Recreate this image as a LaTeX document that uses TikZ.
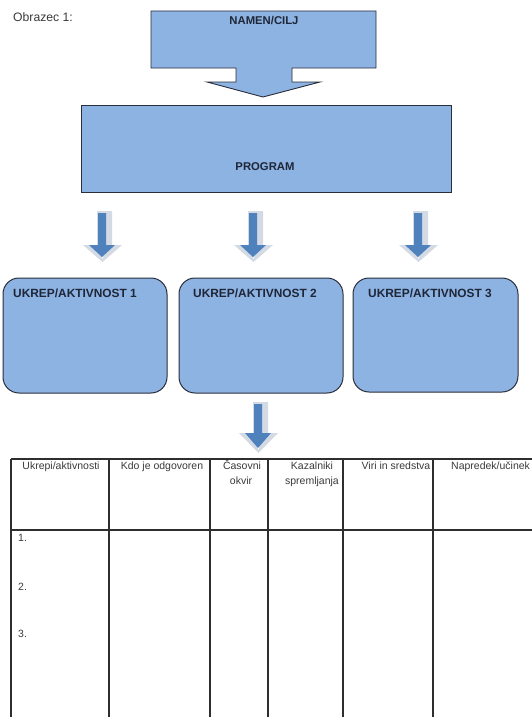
\documentclass[tikz,border=0pt]{standalone}
\usepackage{fontspec}
\setmainfont{Liberation Sans}
\definecolor{boxfill}{HTML}{8DB3E2}
\definecolor{boxline}{HTML}{2A2D3A}
\definecolor{boxtext}{HTML}{1E2638}
\definecolor{arrblue}{HTML}{4F81BD}
\definecolor{arrshade}{HTML}{D3DAE4}
\definecolor{tabtext}{HTML}{3A3A3A}
\definecolor{tabline}{HTML}{2E2E2E}
\begin{document}
\begin{tikzpicture}[x=1pt,y=-1pt,
  blockshape/.style={fill=boxfill,draw=boxline,line width=0.9pt},
  actbox/.style={fill=boxfill,draw=boxline,line width=1pt,rounded corners=16pt},
  btitle/.style={font=\bfseries\fontsize{11.3}{13}\selectfont,text=boxtext,inner sep=0pt},
  utitle/.style={btitle,font=\bfseries\fontsize{11.9}{13}\selectfont},
  ttext/.style={font=\fontsize{10.5}{15}\selectfont,text=tabtext,inner sep=0pt,align=center},
  tline/.style={draw=tabline,line width=1.1pt}]
\useasboundingbox (0,0) rectangle (531,717);
% title
\node[font=\fontsize{12.2}{13}\selectfont,text=tabtext,anchor=base west,inner sep=0pt] (obr) at (13,22) {Obrazec 1:};
% top block arrow
\draw[blockshape] (151,11) -- (376,11) -- (376,68) -- (292,68) -- (292,82) -- (320,82) -- (263,97) -- (207,82) -- (236,82) -- (236,68) -- (151,68) -- cycle;
\node[btitle,anchor=base] (namen) at (264,25) {NAMEN/CILJ};
% program box
\draw[blockshape] (81,105) rectangle (451,192);
\node[btitle,anchor=base] (prog) at (265,170) {PROGRAM};
% small arrows
\newcommand{\downarr}[4]{%
  \fill[arrshade] ({#1-5},{#2-2}) -- ({#1+10},{#2-2}) -- ({#1+10},#3) -- ({#1+20},#3) -- ({#1+0.5},{#4+1}) -- ({#1-19},#3) -- ({#1-5},#3) -- cycle;
  \fill[white] ({#1-3},{#3+3}) -- ({#1+4},{#3+3}) -- ({#1+0.5},{#4-2}) -- cycle;
  \fill[arrblue] ({#1-4},#2) -- ({#1+4},#2) -- ({#1+4},#3) -- ({#1+13},#3) -- ({#1},{#4-4}) -- ({#1-13},#3) -- ({#1-4},#3) -- cycle;
}
\downarr{102}{213}{245}{261}
\downarr{253}{213}{245}{261}
\downarr{418}{213}{245}{261}
\downarr{258}{404}{433}{452}
% activity boxes
\draw[actbox] (3,278) rectangle (167,393);
\draw[actbox] (179,278) rectangle (343,393);
\draw[actbox] (353,278) rectangle (518,392);
\node[utitle,anchor=base west] (u1) at (13,297) {UKREP/AKTIVNOST 1};
\node[utitle,anchor=base west] (u2) at (193,297) {UKREP/AKTIVNOST 2};
\node[utitle,anchor=base west] (u3) at (368,297) {UKREP/AKTIVNOST 3};
% table
\draw[tline] (11,459) -- (535,459);
\draw[draw=tabline,line width=1.5pt] (11,530) -- (535,530);
\foreach \cx in {11,109,210,268,343,433} {
  \draw[tline] (\cx,459) -- (\cx,720);
}
\node[ttext,anchor=base] (h1) at (61,469) {Ukrepi/aktivnosti};
\node[ttext,anchor=base] (h2) at (162,469) {Kdo je odgovoren};
\node[ttext,anchor=base] (h3a) at (242,469) {Časovni};
\node[ttext,anchor=base] (h3b) at (241,484) {okvir};
\node[ttext,anchor=base] (h4a) at (312,469) {Kazalniki};
\node[ttext,anchor=base] (h4b) at (312,484) {spremljanja};
\node[ttext,anchor=base] (h5) at (396,469) {Viri in sredstva};
\node[ttext,anchor=base west] (h6) at (451,469) {Napredek/učinek};
\node[ttext,anchor=base west] (r1) at (18,541) {1.};
\node[ttext,anchor=base west] (r2) at (18,590) {2.};
\node[ttext,anchor=base west] (r3) at (18,637) {3.};
\end{tikzpicture}
\end{document}
